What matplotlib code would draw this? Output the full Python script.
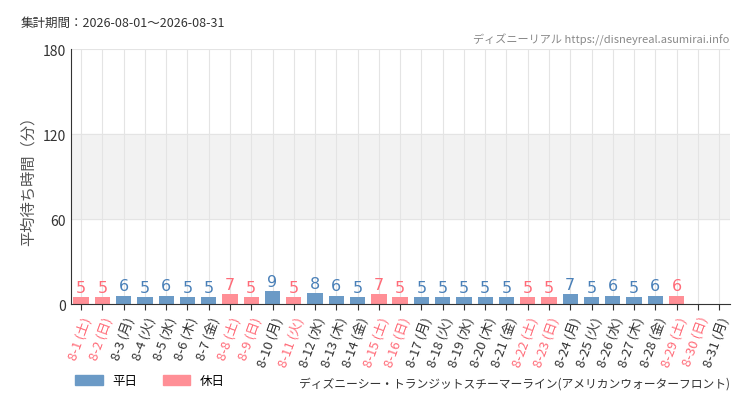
import matplotlib
matplotlib.use("Agg")
import matplotlib.pyplot as plt
from matplotlib.patches import Patch

plt.rcParams['font.family'] = ['Noto Sans CJK JP', 'DejaVu Sans']

days = list(range(1, 32))
weekdays = ["土","日","月","火","水","木","金"] * 5
weekdays = weekdays[:31]
values = [5,5,6,5,6,5,5,7,5,9,5,8,6,5,7,5,5,5,5,5,5,5,5,7,5,6,5,6,6,None,None]
holidays = [1,2,8,9,11,15,16,22,23,29,30]

C_WD = "#6b9ac6"; C_HD = "#ff8f96"
T_WD = "#4a80b8"; T_HD = "#ff6b78"

fig = plt.figure(figsize=(7.5, 4.1), dpi=100)
ax = fig.add_axes([0.094, 0.256, 0.879, 0.622])
ax.axhspan(60, 120, color="#f2f2f2", zorder=0)
for i, d in enumerate(days):
    ax.axvline(i, color="#e4e4e4", lw=0.8, zorder=0)
for y in (60, 120, 180):
    ax.axhline(y, color="#e4e4e4", lw=0.8, zorder=0)

for i, (d, v) in enumerate(zip(days, values)):
    hol = d in holidays
    if v is None:
        continue
    ax.bar(i, v, width=0.72, color=C_HD if hol else C_WD, zorder=2)
    ax.text(i, v + 1.5, str(v), ha="center", va="bottom", fontsize=11.5,
            color=T_HD if hol else T_WD, family=["Liberation Sans Narrow", "DejaVu Sans"])

ax.set_xlim(-0.5, 30.5)
ax.set_ylim(0, 180)
ax.set_yticks([0, 60, 120, 180])
ax.set_yticklabels(["0", "60", "120", "180"], fontsize=10, color="#333333")
labels = [f"8-{d} ({w})" for d, w in zip(days, weekdays)]
ax.set_xticks(range(31))
ax.set_xticklabels(labels, rotation=70, ha="right", rotation_mode="anchor", fontsize=9.5)
for t, d in zip(ax.get_xticklabels(), days):
    t.set_color(T_HD if d in holidays else "#333333")
for s in ("top", "right"):
    ax.spines[s].set_visible(False)
ax.spines["left"].set_color("#333333")
ax.spines["bottom"].set_color("#333333")
ax.tick_params(axis="y", length=0)
ax.tick_params(axis="x", length=4, color="#333333")
ax.set_ylabel("平均待ち時間（分）", fontsize=11, color="#555555")

fig.text(0.027, 0.935, "集計期間：2026-08-01～2026-08-31", fontsize=9, color="#333333")
fig.text(0.973, 0.893, "ディズニーリアル https://disneyreal.asumirai.info", fontsize=8,
         color="#888888", ha="right")
fig.text(0.973, 0.055, "ディズニーシー・トランジットスチーマーライン(アメリカンウォーターフロント)",
         fontsize=8.5, color="#333333", ha="right")
fig.legend(handles=[Patch(color=C_WD, label="平日"), Patch(color=C_HD, label="休日")],
           loc="lower left", bbox_to_anchor=(0.085, 0.025), ncol=2, frameon=False,
           fontsize=9, handlelength=2.2, handleheight=0.9)
fig.savefig("out.png", dpi=100)
